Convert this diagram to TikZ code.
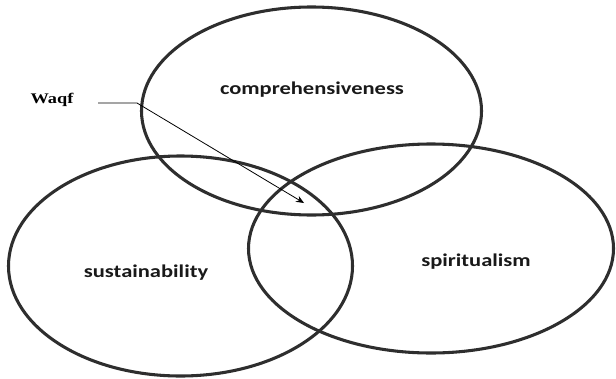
\documentclass[tikz,border=0pt]{standalone}
\usepackage{fontspec}
\usepackage{graphicx}
\setmainfont{Liberation Serif}
\newfontfamily\labfont{Carlito}
\usetikzlibrary{arrows.meta}
\definecolor{ringgray}{HTML}{2E2E2E}
\tikzset{
  ring/.style={draw=ringgray, line width=2.3pt},
  setlabel/.style={font=\labfont\bfseries\fontsize{13.5pt}{15pt}\selectfont, text=black!90, inner sep=0pt},
  waqflabel/.style={font=\bfseries\fontsize{11pt}{13pt}\selectfont, inner sep=0pt},
  pointer/.style={draw=black, line width=0.6pt}
}
\begin{document}
\begin{tikzpicture}[x=0.75pt,y=-0.75pt]
\useasboundingbox (0,0) rectangle (616,378);
% three sets
\draw[ring] (311.5,111) ellipse [x radius=170, y radius=104];
\draw[ring] (180.5,266) ellipse [x radius=172, y radius=110];
\draw[ring] (431,248.5) ellipse [x radius=182.5, y radius=104.5];
% labels
\node[setlabel] (comp) at (312,90) {\scalebox{1.25}[1]{comprehensiveness}};
\node[setlabel] (sust) at (146,273) {\scalebox{1.25}[1]{sustainability}};
\node[setlabel] (spir) at (476,262) {\scalebox{1.25}[1]{spiritualism}};
\node[waqflabel] (waqf) at (52,100) {\scalebox{1.25}[1]{Waqf}};
% pointer
\coordinate (w0) at (98,103);
\coordinate (w1) at (137,103);
\coordinate (tip) at (304,203);
\draw[pointer, -{Stealth[length=6pt,width=5pt]}] (w0) -- (w1) -- (tip);
\end{tikzpicture}
\end{document}
